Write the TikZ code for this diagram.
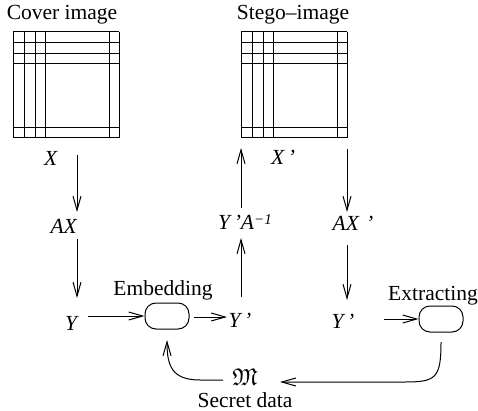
\documentclass[tikz,border=0pt]{standalone}
\usepackage{amssymb}
\usepackage{fontspec}
\setmainfont{Liberation Serif}
\usetikzlibrary{arrows.meta}
\begin{document}
\begin{tikzpicture}[x=1pt,y=-1pt,
  every node/.style={font=\fontsize{21.5}{25}\selectfont, inner sep=0pt},
  lab/.style={anchor=center},
  flow/.style={line width=1pt, -{Straight Barb[length=14pt,width=8pt,line width=1pt]}},
  gridline/.style={line width=1pt},
  procbox/.style={draw, line width=1pt, rounded corners=11pt, minimum width=44pt, minimum height=26pt}]
\useasboundingbox (0,0) rectangle (478,411);
% grids
\foreach \gx in {13,241}{
  \foreach \d in {0,11,22,32,96,106}{
    \draw[gridline] (\gx+\d,32) -- (\gx+\d,138);
  }
  \foreach \d in {0,11,21.5,32,96,106}{
    \draw[gridline] (\gx,32+\d) -- (\gx+106,32+\d);
  }
}
% titles
\node[lab] (cover) at (62,15) {Cover image};
\node[lab] (stego) at (293,15) {Stego–image};
% labels
\node[lab] (X) at (51,158) {\textit{X}};
\node[lab] (AX) at (64,226) {\textit{AX}};
\node[lab] (Y) at (72,323) {\textit{Y}};
\node[lab] (Yp1) at (240,320) {\textit{Y\,'}};
\node[lab] (YpA) at (245,222) {\textit{Y\,'A}\raisebox{0.45ex}{\fontsize{15}{17}\selectfont\textit{−1}}};
\node[lab] (Xp) at (283,157) {\textit{X\,'}};
\node[lab] (AXp) at (353,223) {\textit{AX\,\,'}};
\node[lab] (Yp2) at (343,321) {\textit{Y\,'}};
\node[lab] (M) at (245,377) {\scalebox{1.12}{$\mathfrak{M}$}};
\node[lab] (secret) at (245,400) {Secret data};
% boxes
\node[procbox] (emb) at (167,316) {};
\node[lab] (embt) at (163,290) {Embedding};
\node[procbox] (ext) at (441,319) {};
\node[lab] (extt) at (433,296) {Extracting};
% coordinates for vertical arrows
\coordinate (c1a) at (77,155);
\coordinate (c1b) at (77,212);
\coordinate (c2a) at (77,239);
\coordinate (c2b) at (77,298);
\coordinate (c3a) at (347,149);
\coordinate (c3b) at (347,212);
\coordinate (c4a) at (347,245);
\coordinate (c4b) at (347,300);
\coordinate (c5a) at (241,297);
\coordinate (c5b) at (241,238);
\coordinate (c6a) at (241,208);
\coordinate (c6b) at (241,148);
\draw[flow] (c1a) -- (c1b);
\draw[flow] (c2a) -- (c2b);
\draw[flow] (c3a) -- (c3b);
\draw[flow] (c4a) -- (c4b);
\draw[flow] (c5a) -- (c5b);
\draw[flow] (c6a) -- (c6b);
% horizontal arrows
\coordinate (h1) at (88,316);
\draw[flow] (h1) -- (h1 -| emb.west);
\coordinate (h2a) at (194,317);
\coordinate (h2b) at (227,317);
\draw[flow] (h2a) -- (h2b);
\coordinate (h3a) at (384,319);
\draw[flow] (h3a) -- (h3a -| ext.west);
% bottom curves
\coordinate (r1) at (441,342);
\coordinate (r2) at (280,382);
\draw[flow] (r1) .. controls (441,378) and (436,382) .. (405,382) -- (r2);
\coordinate (l1) at (223,380);
\coordinate (l2) at (167,340);
\draw[flow] (l1) -- (200,380) .. controls (172,380) and (167,366) .. (l2);
\end{tikzpicture}
\end{document}
